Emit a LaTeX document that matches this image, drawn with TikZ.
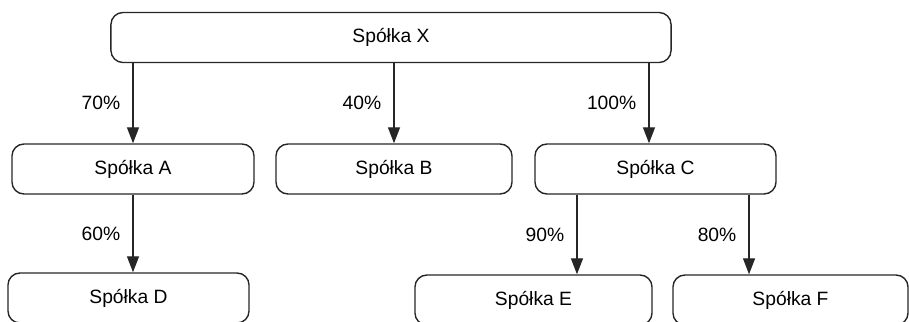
\documentclass[tikz,border=0pt]{standalone}
\usepackage{fontspec}
\setmainfont{Liberation Sans}
\usetikzlibrary{arrows.meta}

\tikzset{
    firma/.style = {draw = black!85, line width = 1pt, rounded corners = 0.3cm, minimum height = 1.25cm, inner sep = 0pt, font = \fontsize{13.7}{16}\selectfont},
    udzial/.style = {draw = black!85, line width = 1pt, -{Triangle[length = 0.4cm, width = 0.3cm]}},
    procent/.style = {midway, anchor = east, inner sep = 0pt, xshift = -0.3cm, font = \fontsize{13.7}{16}\selectfont}
}

\begin{document}
\begin{tikzpicture}[x = 0.025cm, y = -0.025cm]%
    \useasboundingbox (0, 0) rectangle (909, 322);
    \clip (0, 0) rectangle (909, 322);
    \node[firma, minimum width = 14cm] (X) at (391, 37.5) {Spółka X};
    \node[firma, minimum width = 6.05cm] (A) at (133, 169) {Spółka A};
    \node[firma, minimum width = 5.9cm] (B) at (394, 169) {Spółka B};
    \node[firma, minimum width = 6.025cm] (C) at (655.5, 169) {Spółka C};
    \node[firma, minimum width = 6.025cm] (D) at (128.5, 298) {Spółka D};
    \node[firma, minimum width = 5.925cm] (E) at (533.5, 300) {Spółka E};
    \node[firma, minimum width = 5.875cm] (F) at (790.5, 300) {Spółka F};
    \draw[udzial] (X.south -| A.north) -- (A.north) node[procent] {70\%};
    \draw[udzial] (X.south -| B.north) -- (B.north) node[procent] {40\%};
    \draw[udzial] ([xshift = -0.1625cm]C.north |- X.south) -- ([xshift = -0.1625cm]C.north) node[procent] {100\%};
    \draw[udzial] (A.south) -- (A.south |- D.north) node[procent] {60\%};
    \draw[udzial] ([xshift = 1.0675cm]C.south west) -- ([xshift = 1.0675cm]C.south west |- E.north) node[procent] {90\%};
    \draw[udzial] ([xshift = -0.6925cm]C.south east) -- ([xshift = -0.6925cm]C.south east |- F.north) node[procent] {80\%};
\end{tikzpicture}
\end{document}
